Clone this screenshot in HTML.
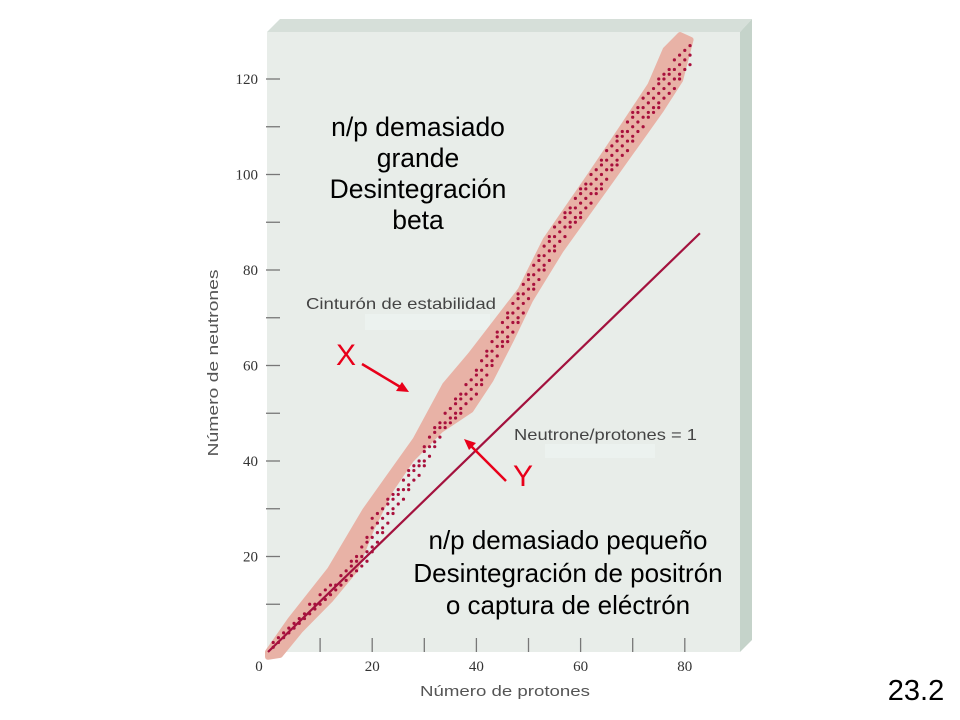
<!DOCTYPE html>
<html><head><meta charset="utf-8">
<style>
body{margin:0;background:#fff;}
svg{display:block;font-family:"Liberation Sans",sans-serif;}
</style></head>
<body>
<svg id="chart" width="960" height="720" viewBox="0 0 960 720">
  <polygon points="267,32 280,19 752,19 740,32" fill="#d6dfd9"/>
  <polygon points="740,32 752,19 752,640 740,652" fill="#c5d3ca"/>
  <rect x="267" y="32" width="473" height="620" fill="#e8ede9"/>
  <rect x="365" y="314" width="125" height="16" fill="#ecf2ef"/>
  <rect x="545" y="444" width="110" height="14" fill="#ecf2ef"/>
  <g id="band"></g>
  <g id="line"></g>
  <g id="dots"></g>
  <g id="axes"></g>

  <g fill="#000" font-size="26.5" text-anchor="middle">
    <text x="418" y="136">n/p demasiado</text>
    <text x="418" y="167">grande</text>
    <text x="418" y="198">Desintegración</text>
    <text x="418" y="229">beta</text>
  </g>
  <g fill="#000" font-size="26" text-anchor="middle">
    <text x="568" y="549">n/p demasiado pequeño</text>
    <text x="568" y="582">Desintegración de positrón</text>
    <text x="568" y="614">o captura de eléctrón</text>
  </g>
  <text x="306" y="309" font-size="16" fill="#444" textLength="190" lengthAdjust="spacingAndGlyphs">Cinturón de estabilidad</text>
  <text x="514" y="440" font-size="16" fill="#444" textLength="183" lengthAdjust="spacingAndGlyphs">Neutrone/protones = 1</text>
  <text x="336" y="365" font-size="30" fill="#e8001a">X</text>
  <line x1="362" y1="364" x2="402" y2="388" stroke="#e8001a" stroke-width="2.5"/>
  <polygon points="409,392 396,391 402,382" fill="#e8001a"/>
  <text x="513" y="486" font-size="30" fill="#e8001a">Y</text>
  <line x1="506" y1="481" x2="470" y2="445" stroke="#e8001a" stroke-width="2.5"/>
  <polygon points="464,439 476,443 469,450" fill="#e8001a"/>
  <text x="218" y="363" font-size="15" fill="#555" text-anchor="middle" textLength="187" lengthAdjust="spacingAndGlyphs" transform="rotate(-90 218 363)">Número de neutrones</text>
  <text x="505" y="696" font-size="15" fill="#555" text-anchor="middle" textLength="170" lengthAdjust="spacingAndGlyphs">Número de protones</text>
  <text x="916" y="700" font-size="29" fill="#000" text-anchor="middle">23.2</text>
</svg>
<script>
const xTicks=[0,20,40,60,80];
const xMinorTicks=[10,20,30,40,50,60,70,80];
const yTicks=[20,40,60,80,100,120];
const yMinorTicks=[10,30,50,70,90,110];
const bandUpperZ=[0,4.3,11.9,18.7,28.3,34,38.9,48.5,53.3,61.9,67.7,73.4,76.3,79.1,81.1];
const bandUpperN=[0,6.7,17.2,29.7,44.4,55.9,62.2,75.8,86.3,99.9,109.3,118.7,126.1,129.2,128.2];
const bandLowerZ=[79.1,75.4,65.8,56.2,50.3,46.6,42.7,38.9,33.1,27.4,23.5,19.7,16.7,11.9,6.2,2.3,0];
const bandLowerN=[119.8,113.5,98.8,84.2,73.7,65.3,57,50.7,46.5,40.2,33.9,25.5,17.2,10.9,4.6,-0.6,-1];
const lineZ=[0,82.9];
const lineN=[0,87.7];
const dotZ=[1,2,3,4,5,6,7,8,9,10,11,12,13,14,15,16,17,18,19,20,21,22,23,24,25,26,27,28,29,30,31,32,33,34,35,36,37,38,39,40,41,42,43,44,45,46,47,48,49,50,51,52,53,54,55,56,57,58,59,60,61,62,63,64,65,66,67,68,69,70,71,72,73,74,75,76,77,78,79,80,81];
const dotNMin=[1,2,3,4,5,6,7,8,9,10,11,12,13,14,15,16,17,18,19,21,23,25,27,29,31,32,34,36,37,39,41,43,45,47,48,49,50,52,53,54,56,58,60,62,64,65,67,69,71,74,76,78,80,82,84,86,87,89,90,91,93,94,96,97,99,101,102,104,105,107,109,110,112,113,114,116,117,118,120,122,123];
const dotNMax=[2,3,4,5,6,7,8,10,10,12,13,14,14,16,17,19,20,22,24,28,29,30,32,33,34,36,38,39,40,43,45,47,48,50,51,53,54,56,57,59,61,63,65,67,69,71,73,75,77,79,81,83,85,87,89,90,92,93,95,97,98,100,101,103,105,106,108,109,111,113,114,116,117,118,120,121,122,124,125,126,127];

const NS='http://www.w3.org/2000/svg';
const sx=z=>268+z*5.21;
const sy=n=>652-n*4.775;
function mk(tag,attrs,parent){const e=document.createElementNS(NS,tag);for(const k in attrs)e.setAttribute(k,attrs[k]);parent.appendChild(e);return e;}

const band=document.getElementById('band');
let pts=[];
bandUpperZ.forEach((z,i)=>pts.push(sx(z)+','+sy(bandUpperN[i])));
bandLowerZ.forEach((z,i)=>pts.push(sx(z)+','+sy(bandLowerN[i])));
const bp=mk('polygon',{points:pts.join(' '),fill:'#e8b2a6','stroke':'#e8b2a6','stroke-width':6,'stroke-linejoin':'round'},band);



const lineG=document.getElementById('line');
const ln=mk('line',{x1:sx(lineZ[0]),y1:sy(lineN[0]),x2:sx(lineZ[1]),y2:sy(lineN[1]),stroke:'#a3123e','stroke-width':2.2},lineG);



const dots=document.getElementById('dots');
dotZ.forEach((z,i)=>{
  for(let n=dotNMin[i];n<=dotNMax[i];n++){
    if((z+n)%2===1 && n!==dotNMin[i] && n!==dotNMax[i]) continue;
    const c=mk('circle',{cx:sx(z),cy:sy(n),r:1.6,fill:'#a8103c'},dots);
    
    
  }
});

const axes=document.getElementById('axes');
xMinorTicks.forEach(v=>{
  const t=mk('line',{x1:sx(v),y1:638,x2:sx(v),y2:652,stroke:'#777','stroke-width':1.3},axes);
  
  
});
xTicks.forEach(v=>{
  const t=mk('text',{x:sx(v)-(v===0?9:0),y:671,'font-size':15,'font-family':'Liberation Serif, serif',fill:'#333','text-anchor':'middle'},axes);
  t.textContent=v;
  
  
});
yTicks.concat(yMinorTicks).forEach(v=>{
  const t=mk('line',{x1:266,y1:sy(v),x2:280,y2:sy(v),stroke:'#777','stroke-width':1.3},axes);
  
  
});
yTicks.forEach(v=>{
  const t=mk('text',{x:258,y:sy(v)+5,'font-size':15,'font-family':'Liberation Serif, serif',fill:'#333','text-anchor':'end'},axes);
  t.textContent=v;
  
  
});
</script>
</body></html>
